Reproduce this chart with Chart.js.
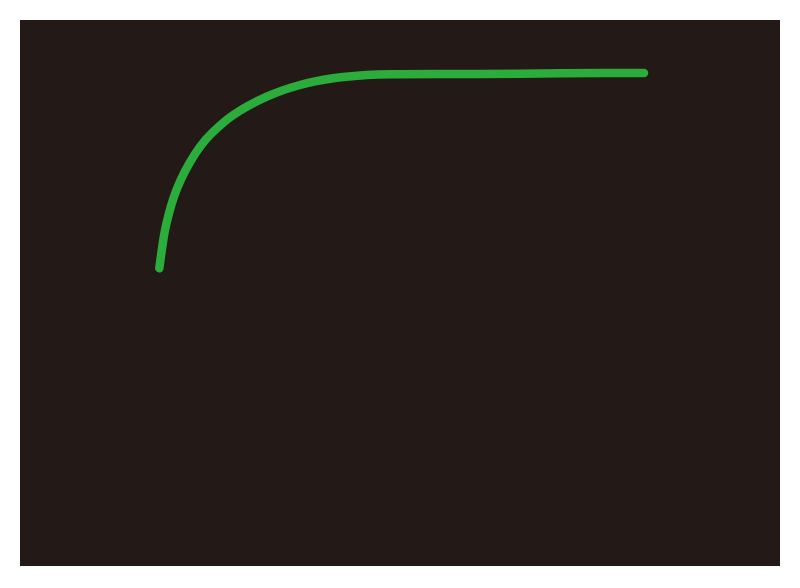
<!DOCTYPE html>
<html>
<head>
<meta charset="utf-8">
<script src="https://cdn.jsdelivr.net/npm/chart.js@4/dist/chart.umd.min.js"></script>
<style>
  html, body { margin: 0; padding: 0; background: #ffffff; }
  #wrap { position: absolute; left: 20px; top: 20px; width: 760px; height: 546px; background: #231917; }
  canvas { display: block; }
</style>
</head>
<body>
<div id="wrap"><canvas id="c" width="760" height="546"></canvas></div>
<script>
// Curve values (x along horizontal axis, y along vertical axis)
const xValues = [139.3, 142.3, 145, 149, 154, 160.7, 169.3, 180, 191, 213.3, 246.7, 280, 313.3, 346.7, 380, 460, 540, 624];
const yValues = [297.7, 319.3, 336, 352.7, 369.3, 386, 402.7, 419.3, 432, 451, 469.3, 481, 487.7, 491, 491.7, 492, 492.7, 493];
const xRange = [0, 760];
const yRange = [0, 546];

const points = xValues.map((x, i) => ({ x: x, y: yValues[i] }));

new Chart(document.getElementById('c'), {
  type: 'line',
  data: {
    datasets: [{
      data: points,
      borderColor: '#2aad3b',
      borderWidth: 8.5,
      borderCapStyle: 'round',
      borderJoinStyle: 'round',
      pointRadius: 0,
      fill: false,
      tension: 0.4,
      clip: false
    }]
  },
  options: {
    responsive: false,
    animation: false,
    layout: { padding: 0 },
    plugins: { legend: { display: false }, tooltip: { enabled: false } },
    scales: {
      x: { type: 'linear', min: xRange[0], max: xRange[1], display: false },
      y: { type: 'linear', min: yRange[0], max: yRange[1], display: false }
    }
  }
});
</script>
</body>
</html>
